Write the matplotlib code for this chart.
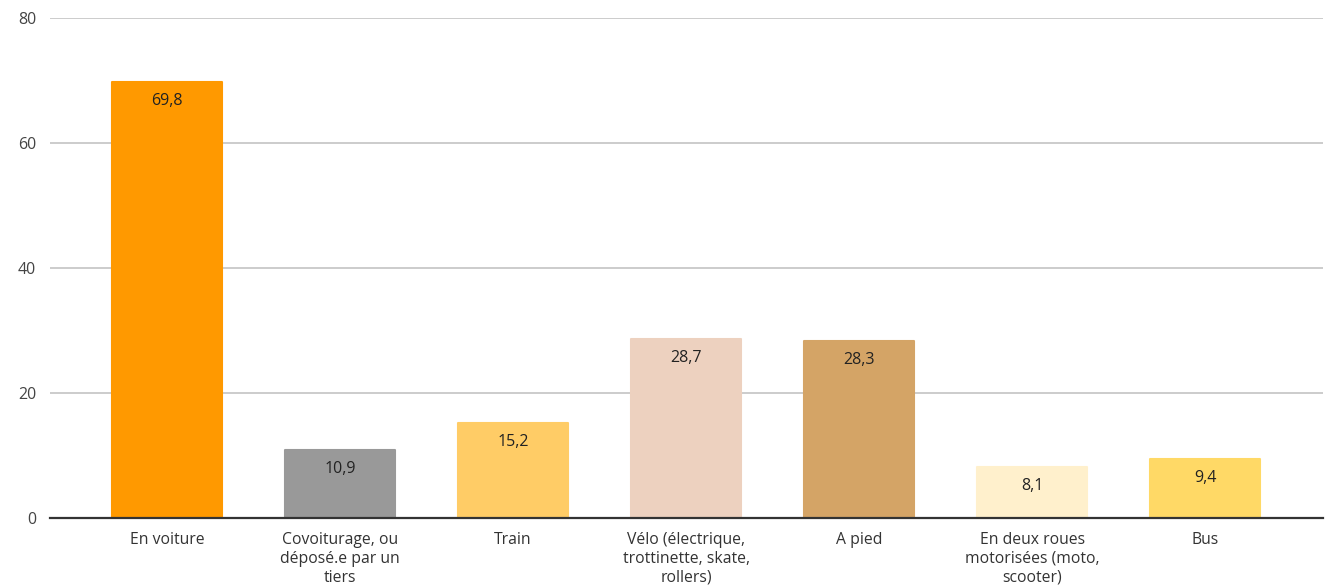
import matplotlib
matplotlib.use("Agg")
import matplotlib.pyplot as plt

categories = ["En voiture", "Covoiturage, ou\ndéposé.e par un\ntiers", "Train",
              "Vélo (électrique,\ntrottinette, skate,\nrollers)", "A pied",
              "En deux roues\nmotorisées (moto,\nscooter)", "Bus"]
values = [69.8, 10.9, 15.2, 28.7, 28.3, 8.1, 9.4]
value_labels = ["69,8", "10,9", "15,2", "28,7", "28,3", "8,1", "9,4"]
colors = ["#FF9900", "#999999", "#FFCC66", "#EDD1BF", "#D4A466", "#FFF0CC", "#FFD966"]
yticks = [0, 20, 40, 60, 80]

plt.rcParams['font.family'] = ['Open Sans', 'DejaVu Sans']

fig = plt.figure(figsize=(13.35, 5.86), dpi=100)
ax = fig.add_axes([50/1335, 68/586, 1273/1335, 500/586])

x = list(range(len(categories)))
bars = ax.bar(x, values, width=0.635, color=colors, edgecolor=colors, linewidth=1.5, zorder=3)
for b in bars:
    b.set_joinstyle("round")
for xi, v, lab in zip(x, values, value_labels):
    ax.annotate(lab, (xi, v), xytext=(0, -19), textcoords="offset pixels",
                ha="center", va="center", fontsize=11.5, color="#222222", zorder=4)

ax.set_xlim(-0.676, 6.68)
ax.set_ylim(0, 80)
ax.set_yticks(yticks)
ax.set_yticklabels([str(t) for t in yticks], fontsize=11.5, color="#444444")
ax.set_xticks(x)
ax.set_xticklabels(categories, fontsize=11.3, color="#333333", linespacing=1.25, va="top")
ax.tick_params(axis="both", length=0)
ax.tick_params(axis="x", pad=10)
ax.tick_params(axis="y", pad=10)
ax.grid(axis="y", color="#CCCCCC", linewidth=1.4, zorder=0)
for s in ["top", "right", "left"]:
    ax.spines[s].set_visible(False)
ax.spines["bottom"].set_color("#333333")
ax.spines["bottom"].set_linewidth(1.6)
ax.spines["bottom"].set_zorder(5)

fig.savefig("out.png", dpi=100)
